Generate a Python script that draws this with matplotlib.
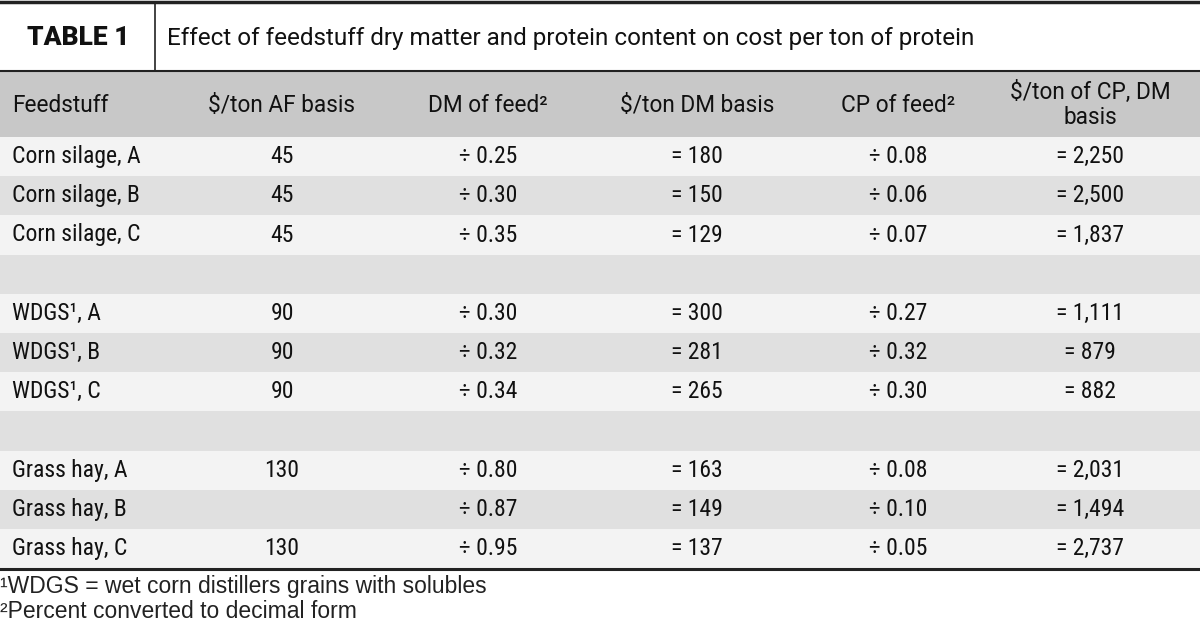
import matplotlib
matplotlib.use("Agg")
import matplotlib.pyplot as plt
from matplotlib.patches import Rectangle

# table content
title_label = "TABLE 1"
title_text = "Effect of feedstuff dry matter and protein content on cost per ton of protein"
headers = ["Feedstuff", "$/ton AF basis", "DM of feed²", "$/ton DM basis",
           "CP of feed²", "$/ton of CP, DM\nbasis"]
feedstuff = ["Corn silage, A", "Corn silage, B", "Corn silage, C", "",
             "WDGS¹, A", "WDGS¹, B", "WDGS¹, C", "",
             "Grass hay, A", "Grass hay, B", "Grass hay, C"]
af_cost = ["45", "45", "45", "", "90", "90", "90", "", "130", "", "130"]
dm_feed = ["0.25", "0.30", "0.35", "", "0.30", "0.32", "0.34", "", "0.80", "0.87", "0.95"]
dm_cost = ["180", "150", "129", "", "300", "281", "265", "", "163", "149", "137"]
cp_feed = ["0.08", "0.06", "0.07", "", "0.27", "0.32", "0.30", "", "0.08", "0.10", "0.05"]
cp_cost = ["2,250", "2,500", "1,837", "", "1,111", "879", "882", "", "2,031", "1,494", "2,737"]
footnotes = ["¹WDGS = wet corn distillers grains with solubles",
             "²Percent converted to decimal form"]

plt.rcParams["mathtext.default"] = "regular"

W, H = 1200, 632
fig = plt.figure(figsize=(12, 6.32), dpi=100)
ax = fig.add_axes([0, 0, 1, 1])
ax.set_xlim(0, W)
ax.set_ylim(H, 0)
ax.axis("off")

body_font = ["Roboto Condensed", "Liberation Sans Narrow", "Roboto", "DejaVu Sans"]
head_font = ["Roboto", "DejaVu Sans"]
fs = 17

col_x = [12, 282, 488, 697, 898, 1090]

# title band
ax.plot([0, W], [2, 2], color="#222222", lw=2.5)
ax.plot([0, W], [71, 71], color="#222222", lw=1.5)
ax.plot([155, 155], [2, 71], color="#222222", lw=1.2)
ax.text(78, 38, title_label, ha="center", va="center", fontsize=19,
        fontweight="black", family=head_font, color="#111111")
ax.text(167, 38, title_text, ha="left", va="center", fontsize=17.5,
        family=head_font, color="#111111")

# header row
ax.add_patch(Rectangle((0, 72), W, 65, color="#c8c8c8", lw=0))
for i, h in enumerate(headers):
    ha = "left" if i == 0 else "center"
    ax.text(col_x[i], 105, h, ha=ha, va="center", fontsize=16.3,
            family=head_font, color="#111111", linespacing=1.1)

# body rows
row_top = 137
row_h = 39.2
for r in range(len(feedstuff)):
    y0 = row_top + r * row_h
    color = "#f3f3f3" if r % 2 == 0 else "#e0e0e0"
    ax.add_patch(Rectangle((0, y0), W, row_h, color=color, lw=0))
    yc = y0 + row_h / 2
    vals = [feedstuff[r], af_cost[r],
            "÷ " + dm_feed[r] if dm_feed[r] else "",
            "= " + dm_cost[r] if dm_cost[r] else "",
            "÷ " + cp_feed[r] if cp_feed[r] else "",
            "= " + cp_cost[r] if cp_cost[r] else ""]
    for i, v in enumerate(vals):
        if not v:
            continue
        ha = "left" if i == 0 else "center"
        ax.text(col_x[i], yc, v, ha=ha, va="center", fontsize=fs,
                family=body_font, color="#111111")

bottom = row_top + len(feedstuff) * row_h
ax.plot([0, W], [bottom + 1, bottom + 1], color="#222222", lw=2.2)

ax.text(0, 586, footnotes[0], ha="left", va="center", fontsize=16.5,
        family=["Liberation Sans", "DejaVu Sans"], color="#222222")
ax.text(0, 611, footnotes[1], ha="left", va="center", fontsize=16.5,
        family=["Liberation Sans", "DejaVu Sans"], color="#222222")

fig.savefig("out.png", dpi=100, facecolor="white")
